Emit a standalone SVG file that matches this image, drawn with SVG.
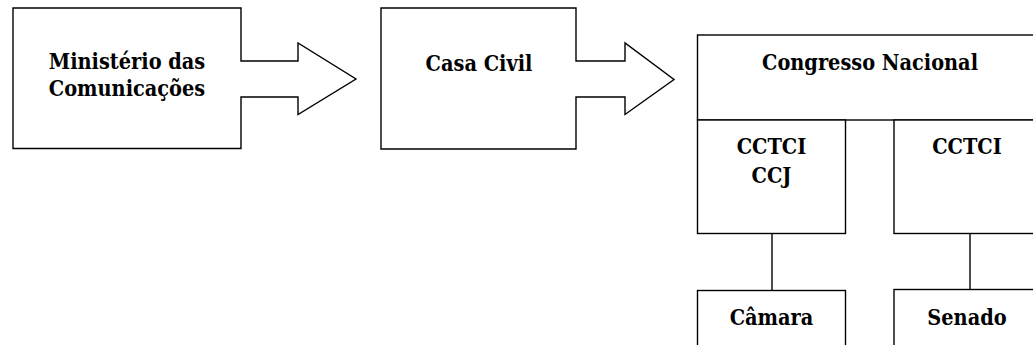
<svg xmlns="http://www.w3.org/2000/svg" width="1033" height="345" viewBox="0 0 1033 345">
<style>
.shape{fill:#fff;stroke:#000;stroke-width:1.4}
.conn{stroke:#000;stroke-width:1.4;fill:none}
.t{font-family:'DejaVu Serif Condensed','DejaVu Serif',serif;font-stretch:condensed;font-weight:700;font-size:21.5px;fill:#000;text-anchor:middle}
</style>
<rect width="1033" height="345" fill="#fff"/>
<g id="ministerio">
<polygon class="shape" points="13,8 241,8 241,61 298,61 298,43 356,79 298,114.5 298,97 241,97 241,148.5 13,148.5"/>
<text class="t" x="127" y="68.5">Ministério das</text>
<text class="t" x="127" y="96">Comunicações</text>
</g>
<g id="casacivil">
<polygon class="shape" points="381,8 576,8 576,61 625,61 625,43 674,79.5 625,114.5 625,97 576,97 576,149 381,149"/>
<text class="t" x="479" y="71">Casa Civil</text>
</g>
<g id="congresso">
<rect class="shape" x="697.5" y="35" width="345" height="85"/>
<text class="t" x="870" y="69.5">Congresso Nacional</text>
</g>
<g id="cctci-ccj">
<rect class="shape" x="697.5" y="120" width="148" height="113.5"/>
<text class="t" x="771.5" y="153.5">CCTCI</text>
<text class="t" x="771.5" y="182.5">CCJ</text>
</g>
<g id="cctci">
<rect class="shape" x="894" y="120" width="148" height="113.5"/>
<text class="t" x="967" y="153.5">CCTCI</text>
</g>
<g id="camara">
<rect class="shape" x="697.5" y="290.5" width="148" height="70"/>
<text class="t" x="771.5" y="325">Câmara</text>
</g>
<g id="senado">
<rect class="shape" x="894" y="289.5" width="148" height="70"/>
<text class="t" x="967" y="325">Senado</text>
</g>
<g id="connectors">
<line class="conn" x1="772" y1="233.5" x2="772" y2="290.5"/>
<line class="conn" x1="970" y1="233.5" x2="970" y2="289.5"/>
</g>
</svg>
